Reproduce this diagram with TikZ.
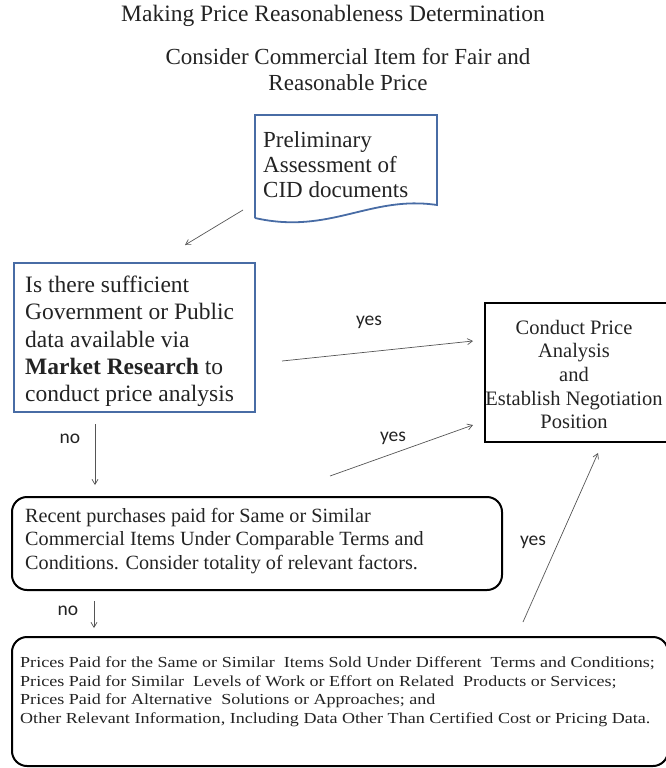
\documentclass[tikz,border=0pt]{standalone}
\usepackage{fontspec}
\setmainfont{Liberation Serif}
\newfontfamily\lblfont{Carlito}
\newfontfamily\widefont[FakeStretch=1.18]{Liberation Serif}
\usetikzlibrary{arrows.meta}
\definecolor{boxblue}{RGB}{72,108,165}
\definecolor{txt}{RGB}{35,35,35}
\definecolor{arr}{RGB}{85,85,85}
\tikzset{
  conn/.style={draw=arr, line width=0.7pt, -{Straight Barb[length=5pt,width=6pt]}},
  lbl/.style={font=\lblfont\fontsize{19.5}{21}\selectfont, text=txt, inner sep=0pt},
  bluebox/.style={draw=boxblue, line width=1.8pt},
  blackbox/.style={draw=black, line width=2pt},
}
\begin{document}
\begin{tikzpicture}[x=1pt,y=-1pt, text=txt]
\useasboundingbox (0,0) rectangle (666,768);
\clip (0,0) rectangle (666,768);
% titles
\node[font=\fontsize{23.5}{26}\selectfont] (title) at (333,16) {Making Price Reasonableness Determination};
\node[align=center, font=\fontsize{23}{26}\selectfont] (sub) at (348,70) {Consider Commercial Item for Fair and\\ Reasonable Price};
% document shape
\draw[bluebox] (255,218) -- (255,115) -- (437,115) -- (437,205)
  .. controls (370,195) and (330,235) .. (255,218);
\node[anchor=north west, align=left, inner sep=0pt, font=\fontsize{23}{25}\selectfont] (doc) at (263,131)
  {Preliminary\\ Assessment of\\ CID documents};
% question
\node[bluebox, minimum width=241, minimum height=149, inner sep=0pt] (q) at (134.5,337.5) {};
\node[anchor=north west, align=left, inner sep=0pt, font=\fontsize{23.5}{27.2}\selectfont] (qt) at (25,276)
  {Is there sufficient\\ Government or Public\\ data available via\\ \textbf{Market Research} to\\ conduct price analysis};
% conduct
\node[blackbox, minimum width=200, minimum height=139, inner sep=0pt] (cpa) at (585,372.5) {};
\node[align=center, inner sep=0pt, font=\fontsize{20.5}{23.6}\selectfont] (cpat) at (574,374.5)
  {Conduct Price\\ Analysis\\ and\\ Establish Negotiation\\ Position};
% recent purchases
\node[blackbox, rounded corners=15pt, minimum width=490, minimum height=93, inner sep=0pt] (rp) at (257,543.5) {};
\node[anchor=north west, align=left, inner sep=0pt, font=\fontsize{20.2}{23.5}\selectfont] (rpt) at (25,508)
  {Recent purchases paid for Same or Similar\\ Commercial Items Under Comparable Terms and\\ Conditions. Consider totality of relevant factors.};
% bottom box
\node[blackbox, rounded corners=15pt, minimum width=656, minimum height=129, inner sep=0pt] (pp) at (340,701.5) {};
\node[anchor=north west, align=left, inner sep=0pt, font=\widefont\fontsize{15.3}{18.4}\selectfont] (ppt) at (20,657)
  {Prices Paid for the Same or Similar\ \ Items Sold Under Different\ \ Terms and Conditions;\\
   Prices Paid for Similar\ \ Levels of Work or Effort on Related\ \ Products or Services;\\
   Prices Paid for Alternative\ \ Solutions or Approaches; and\\
   Other Relevant Information, Including Data Other Than Certified Cost or Pricing Data.};
% connector endpoints
\coordinate (a1s) at (243,210); \coordinate (a1e) at (185,245);
\coordinate (a2s) at (282,361); \coordinate (a2e) at (473,341);
\coordinate (a3s) at (330,476); \coordinate (a3e) at (473,425);
\coordinate (a4s) at (523,622); \coordinate (a4e) at (598,453);
\coordinate (n1s) at (95,424); \coordinate (n1e) at (95,485);
\coordinate (n2s) at (94,601); \coordinate (n2e) at (94,628);
\draw[conn] (a1s) -- (a1e);
\draw[conn] (a2s) -- (a2e);
\draw[conn] (a3s) -- (a3e);
\draw[conn] (a4s) -- (a4e);
\draw[conn] (n1s) -- (n1e);
\draw[conn] (n2s) -- (n2e);
% labels
\node[lbl] (y1) at (369,322) {yes};
\node[lbl] (y2) at (393,438) {yes};
\node[lbl] (y3) at (533,542) {yes};
\node[lbl] (no1) at (70,439) {no};
\node[lbl] (no2) at (68,611) {no};
\end{tikzpicture}
\end{document}
